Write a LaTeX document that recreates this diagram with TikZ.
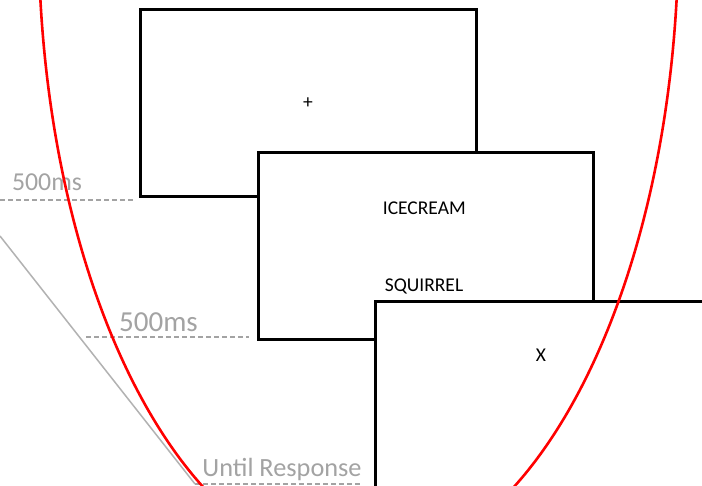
\documentclass[tikz,border=0pt]{standalone}
\usepackage{fontspec}
\setmainfont{Carlito}
\definecolor{labelgray}{RGB}{163,163,163}
\definecolor{linegray}{RGB}{178,178,178}
\definecolor{ovalred}{RGB}{255,0,0}
\tikzset{
  screen/.style={draw=black, fill=white, line width=3pt, inner sep=0pt, font=\fontsize{19.5}{22}\selectfont},
  stimtext/.style={inner sep=0pt, font=\fontsize{19.5}{22}\selectfont},
  timelabel/.style={inner sep=0pt, text=labelgray, anchor=base},
  timeline/.style={draw=labelgray, line width=2pt, dash pattern=on 5pt off 3pt},
  diag/.style={draw=linegray, line width=1.5pt},
  oval/.style={draw=ovalred, line width=2.6pt}
}
\begin{document}
\begin{tikzpicture}[x=1pt,y=-1pt]
\useasboundingbox (0,0) rectangle (702,486);
\clip (0,0) rectangle (702,486);
\fill[white] (0,0) rectangle (702,486);
% screens
\node[screen, minimum width=336pt, minimum height=187pt] (box1) at (308,103.5) {+};
\node[screen, minimum width=335pt, minimum height=187pt] (box2) at (425.5,246.5) {};
\node[screen, minimum width=360pt, minimum height=220pt, anchor=north west] (box3) at (374,300) {};
% stimulus texts
\node[stimtext, anchor=base] (w1) at (424.3,214.3) {ICECREAM};
\node[stimtext, anchor=base] (w2) at (424,291.5) {SQUIRREL};
\node[stimtext] (xmark) at (541,355) {X};
% time labels
\node[timelabel, font=\fontsize{25.8}{30}\selectfont] (t1) at (47,191) {500ms};
\node[timelabel, font=\fontsize{29}{34}\selectfont] (t2) at (158.5,331.7) {500ms};
\node[timelabel, font=\fontsize{26.3}{31}\selectfont] (t3) at (282,476.7) {Until Response};
% dashed timelines
\coordinate (d1a) at (0,200);
\coordinate (d1b) at (133,200);
\coordinate (d2a) at (86,337);
\coordinate (d2b) at (249,337);
\coordinate (d3a) at (195,484);
\coordinate (d3b) at (361,484);
\draw[timeline] (d1a) -- (d1b);
\draw[timeline] (d2a) -- (d2b);
\draw[timeline] (d3a) -- (d3b);
% diagonal time axis
\coordinate (axstart) at (0,236);
\draw[diag] (axstart) -- (d3a);
% red oval
\coordinate (ovalc) at (358.5,-70);
\draw[oval] (ovalc) ellipse [x radius=320, y radius=637];
\end{tikzpicture}
\end{document}
